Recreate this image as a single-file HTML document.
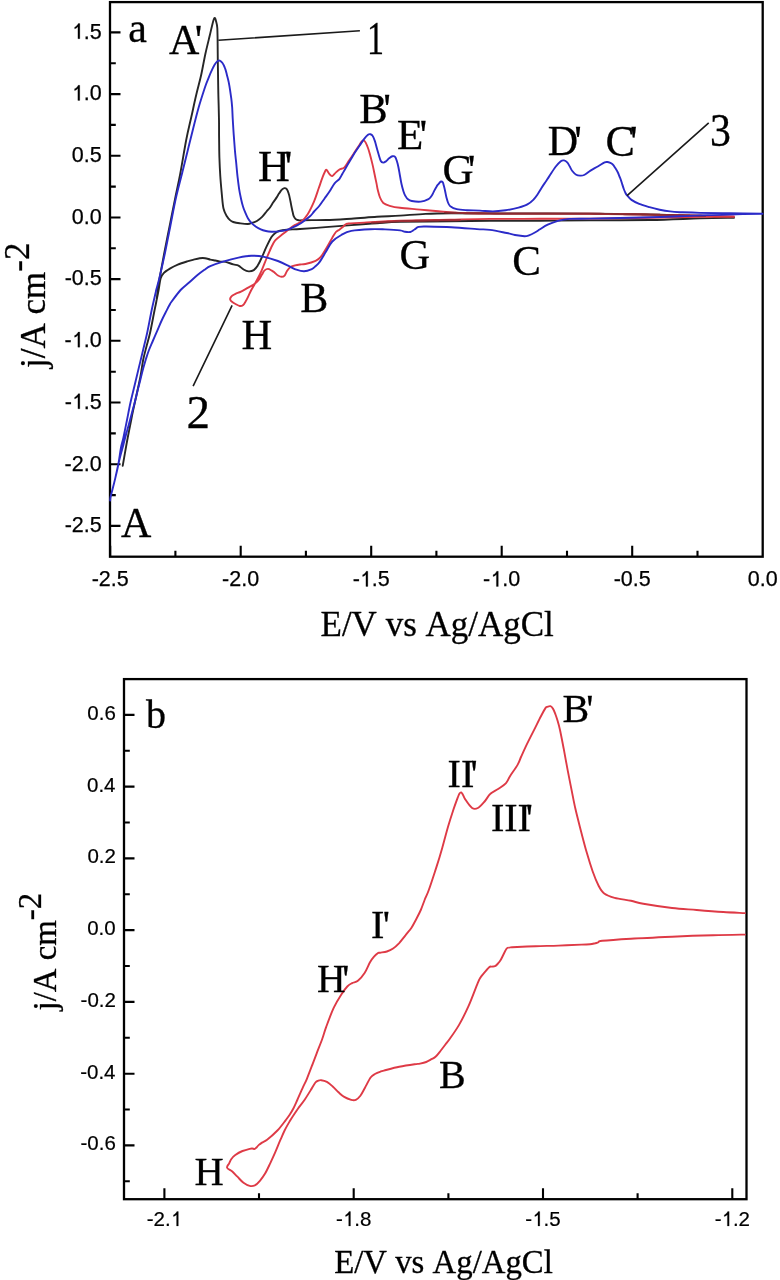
<!DOCTYPE html>
<html><head><meta charset="utf-8"><style>
html,body{margin:0;padding:0;background:#fff;}
body{width:780px;height:1280px;overflow:hidden;}
svg{display:block;will-change:transform;}
text{fill:#000;font-kerning:none;}
</style></head><body>
<svg width="780" height="1280" viewBox="0 0 780 1280">
<rect width="780" height="1280" fill="#fff"/>
<rect x="110.0" y="2.1" width="652.7" height="554.6" fill="none" stroke="#000" stroke-width="2.3"/>
<path d="M110.2,556.7V545.7M175.4,556.7V550.7M240.7,556.7V545.7M305.9,556.7V550.7M371.2,556.7V545.7M436.4,556.7V550.7M501.7,556.7V545.7M567.0,556.7V550.7M632.2,556.7V545.7M697.5,556.7V550.7M110.0,32.4H120.5M110.0,63.2H115.8M110.0,94.1H120.5M110.0,124.9H115.8M110.0,155.8H120.5M110.0,186.6H115.8M110.0,217.5H120.5M110.0,248.3H115.8M110.0,279.1H120.5M110.0,310.0H115.8M110.0,340.8H120.5M110.0,371.7H115.8M110.0,402.5H120.5M110.0,433.4H115.8M110.0,464.2H120.5M110.0,495.1H115.8M110.0,525.9H120.5" stroke="#000" stroke-width="2.1" fill="none"/>
<rect x="124.0" y="679.1" width="622.5" height="520.1" fill="none" stroke="#000" stroke-width="2.3"/>
<path d="M164.4,1199.2V1188.2M259.0,1199.2V1193.2M353.7,1199.2V1188.2M448.4,1199.2V1193.2M543.0,1199.2V1188.2M637.6,1199.2V1193.2M732.3,1199.2V1188.2M124.0,714.9H134.5M124.0,750.8H129.8M124.0,786.6H134.5M124.0,822.5H129.8M124.0,858.4H134.5M124.0,894.3H129.8M124.0,930.1H134.5M124.0,966.0H129.8M124.0,1001.9H134.5M124.0,1037.8H129.8M124.0,1073.7H134.5M124.0,1109.5H129.8M124.0,1145.4H134.5M124.0,1181.3H129.8" stroke="#000" stroke-width="2.1" fill="none"/>
<path d="M734.0,217.8 C728.3,217.9 714.0,218.0 700.0,218.4 C686.0,218.8 668.3,219.7 650.0,220.0 C631.7,220.3 608.3,220.3 590.0,220.4 C571.7,220.5 556.7,220.6 540.0,220.7 C523.3,220.8 505.0,220.7 490.0,220.8 C475.0,220.9 465.0,221.0 450.0,221.2 C435.0,221.4 412.2,221.6 400.0,221.9 C387.8,222.2 385.0,222.7 376.9,223.2 C368.8,223.7 359.9,224.4 351.3,225.1 C342.8,225.8 334.2,226.4 325.6,227.1 C317.1,227.8 306.4,228.6 300.0,229.0 C293.6,229.4 290.4,229.4 286.9,229.7 C283.4,230.0 281.0,230.4 279.0,231.0 C277.0,231.6 276.2,232.2 275.0,233.2 C273.8,234.2 272.9,234.7 271.5,237.0 C270.1,239.3 268.1,243.3 266.4,246.9 C264.7,250.5 262.8,255.4 261.3,258.5 C259.9,261.6 258.9,263.7 257.7,265.6 C256.4,267.5 255.3,269.1 253.8,270.1 C252.3,271.1 250.4,271.5 248.7,271.4 C247.0,271.3 245.3,270.5 243.6,269.5 C241.9,268.5 240.2,266.5 238.5,265.6 C236.8,264.8 235.5,265.0 233.3,264.4 C231.2,263.8 227.7,262.3 225.6,261.8 C223.5,261.3 222.2,261.8 220.5,261.6 C218.8,261.4 217.1,260.8 215.4,260.5 C213.7,260.2 212.0,260.0 210.3,259.6 C208.6,259.2 206.9,258.4 205.1,258.2 C203.3,258.0 201.7,258.0 199.7,258.3 C197.7,258.6 195.1,259.3 193.0,259.8 C190.9,260.3 189.7,260.6 187.2,261.4 C184.7,262.2 180.6,263.5 177.8,264.7 C175.0,265.9 172.7,267.0 170.3,268.4 C168.0,269.8 165.3,271.4 163.7,273.1 C162.1,274.8 161.4,275.7 160.6,278.5 C159.8,281.3 159.6,284.6 158.6,290.0 C157.6,295.4 155.8,304.0 154.4,311.0 C153.0,318.0 151.5,326.4 150.2,332.2 C148.9,338.0 147.8,341.3 146.6,346.0 C145.4,350.7 144.1,355.1 143.1,360.3 C142.1,365.5 141.4,371.7 140.3,377.2 C139.2,382.7 138.0,388.1 136.8,393.5 C135.6,398.9 134.4,404.5 133.3,409.5 C132.2,414.5 131.4,418.9 130.5,423.6 C129.6,428.3 128.6,433.0 127.7,437.7 C126.8,442.4 126.0,447.0 125.2,451.7 C124.4,456.4 122.7,465.8 122.7,465.8 C122.7,465.8 124.4,456.4 125.2,451.7 C126.0,447.0 126.8,442.4 127.7,437.7 C128.6,433.0 129.6,428.3 130.5,423.6 C131.4,418.9 132.2,414.5 133.3,409.5 C134.4,404.5 135.6,398.9 136.8,393.5 C138.0,388.1 139.2,382.7 140.3,377.2 C141.4,371.7 142.1,365.5 143.1,360.3 C144.1,355.1 145.4,350.7 146.6,346.0 C147.8,341.3 148.9,338.0 150.2,332.2 C151.5,326.4 153.3,316.4 154.4,311.0 C155.5,305.6 155.9,304.3 156.6,300.0 C157.2,295.7 157.7,289.0 158.3,285.0 C158.9,281.0 159.1,281.1 160.0,276.0 C160.9,270.9 162.4,262.7 164.0,254.4 C165.6,246.1 167.7,235.6 169.6,226.2 C171.5,216.8 173.4,206.8 175.2,198.1 C177.0,189.4 178.4,183.7 180.2,174.0 C182.0,164.3 184.4,149.4 186.2,140.0 C188.0,130.6 189.5,125.0 191.2,117.5 C192.9,110.0 194.5,102.0 196.2,95.0 C197.8,88.0 199.6,82.1 201.1,75.3 C202.6,68.5 203.9,60.7 205.3,54.2 C206.7,47.8 208.3,41.5 209.5,36.6 C210.7,31.7 211.5,27.8 212.3,24.7 C213.1,21.6 213.8,18.5 214.5,18.0 C215.2,17.5 215.7,20.1 216.2,21.8 C216.7,23.5 217.1,25.0 217.3,28.0 C217.5,31.0 217.5,34.7 217.6,40.0 C217.7,45.3 217.7,53.3 217.8,60.0 C217.9,66.7 218.0,73.3 218.1,80.0 C218.2,86.7 218.3,93.3 218.5,100.0 C218.7,106.7 218.9,113.5 219.0,120.0 C219.1,126.5 219.0,132.6 219.1,138.8 C219.2,145.1 219.2,151.2 219.4,157.5 C219.6,163.8 219.9,170.1 220.3,176.3 C220.7,182.6 221.4,189.6 221.9,195.0 C222.4,200.4 222.7,205.0 223.5,208.5 C224.3,212.0 225.6,214.1 226.7,216.0 C227.8,217.9 228.9,219.1 230.0,220.1 C231.1,221.1 231.6,221.5 233.2,222.0 C234.8,222.5 237.1,223.0 239.6,223.3 C242.1,223.6 245.8,224.1 247.9,224.0 C250.0,223.9 250.9,223.2 252.4,222.7 C253.9,222.2 255.3,222.0 256.9,221.0 C258.5,220.0 260.5,218.5 262.1,216.9 C263.7,215.3 265.2,213.1 266.5,211.5 C267.8,209.9 268.9,209.0 270.0,207.5 C271.1,206.0 272.0,204.3 273.1,202.6 C274.2,200.9 275.7,198.9 276.7,197.4 C277.7,195.9 278.3,194.6 279.2,193.3 C280.1,192.0 280.9,190.5 281.8,189.7 C282.7,188.8 283.6,188.4 284.4,188.2 C285.2,188.0 285.8,188.2 286.4,188.7 C287.0,189.2 287.4,190.2 287.9,191.3 C288.4,192.4 288.8,193.7 289.2,195.4 C289.6,197.1 290.1,199.6 290.5,201.5 C290.9,203.4 291.1,205.0 291.5,206.7 C291.9,208.4 292.2,210.3 292.6,211.8 C293.0,213.3 293.1,214.7 293.6,215.9 C294.1,217.1 294.8,218.3 295.6,219.0 C296.5,219.7 297.4,220.1 298.7,220.3 C300.0,220.5 299.1,220.2 303.7,220.2 C308.3,220.1 318.4,220.2 326.3,220.0 C334.2,219.8 342.9,219.2 351.3,218.7 C359.7,218.2 368.8,217.3 376.9,216.8 C385.0,216.3 391.9,216.1 400.0,215.6 C408.1,215.1 417.1,214.3 425.6,213.9 C434.2,213.5 438.9,213.4 451.3,213.3 C463.7,213.2 476.9,213.4 500.0,213.5 C523.1,213.6 565.0,213.4 590.0,213.6 C615.0,213.8 631.7,214.1 650.0,214.5 C668.3,214.9 686.0,215.2 700.0,215.8 C714.0,216.4 728.3,217.5 734.0,217.8" fill="none" stroke="#262626" stroke-width="1.90" stroke-linejoin="round" stroke-linecap="round"/>
<path d="M734.0,216.8 C728.3,216.8 714.0,216.8 700.0,216.9 C686.0,217.1 668.3,217.4 650.0,217.7 C631.7,218.0 608.3,218.4 590.0,218.6 C571.7,218.8 556.7,218.8 540.0,218.8 C523.3,218.9 505.0,218.8 490.0,218.9 C475.0,219.0 465.0,219.3 450.0,219.6 C435.0,219.9 414.3,220.1 400.0,220.6 C385.7,221.1 372.4,222.1 364.1,222.6 C355.8,223.1 353.0,223.2 350.0,223.4 C347.0,223.6 347.3,223.5 346.2,224.0 C345.1,224.5 344.7,225.3 343.6,226.2 C342.5,227.1 341.0,228.4 339.7,229.4 C338.4,230.4 337.1,230.6 335.9,232.0 C334.7,233.4 333.8,235.2 332.3,237.7 C330.9,240.1 329.1,243.5 327.2,246.7 C325.3,249.9 322.7,254.5 320.8,256.9 C318.9,259.2 318.2,259.6 315.6,260.8 C313.0,262.0 308.0,263.4 305.4,264.0 C302.8,264.6 301.7,264.3 300.0,264.5 C298.3,264.7 296.7,264.9 295.1,265.3 C293.5,265.8 291.6,266.2 290.2,267.2 C288.8,268.1 287.9,269.6 287.0,271.0 C286.1,272.4 285.5,274.6 284.6,275.6 C283.7,276.6 282.6,276.8 281.5,276.8 C280.4,276.8 279.2,276.2 278.0,275.5 C276.8,274.8 275.5,273.3 274.5,272.5 C273.5,271.7 272.9,271.2 271.8,270.6 C270.7,270.0 269.1,268.9 267.9,268.9 C266.7,268.9 265.6,269.5 264.6,270.4 C263.6,271.3 262.9,273.1 262.0,274.5 C261.1,275.9 260.6,277.5 259.5,279.0 C258.4,280.5 256.9,282.2 255.1,283.6 C253.3,285.0 251.0,286.1 248.7,287.4 C246.3,288.7 243.2,290.5 241.0,291.6 C238.8,292.7 236.9,293.1 235.5,293.8 C234.1,294.5 233.3,295.0 232.5,295.6 C231.7,296.2 231.0,297.0 230.6,297.6 C230.2,298.2 230.0,298.7 230.2,299.4 C230.4,300.1 231.1,301.0 232.0,301.8 C232.9,302.6 234.2,303.3 235.5,304.0 C236.8,304.7 238.4,305.8 239.7,306.0 C241.0,306.2 242.2,305.8 243.2,305.0 C244.2,304.2 244.8,302.8 245.6,301.5 C246.4,300.2 246.9,299.3 247.8,297.4 C248.8,295.5 249.9,292.7 251.3,290.0 C252.7,287.3 254.7,284.2 256.4,281.0 C258.1,277.8 259.8,274.6 261.5,270.8 C263.2,267.1 264.9,262.3 266.5,258.5 C268.1,254.7 269.6,251.0 271.0,248.0 C272.4,245.0 273.3,242.6 275.2,240.4 C277.1,238.2 279.9,236.4 282.1,234.6 C284.3,232.8 286.6,231.1 288.5,229.6 C290.4,228.1 291.5,227.1 293.6,225.8 C295.7,224.5 299.0,223.5 301.3,221.6 C303.6,219.7 305.6,217.6 307.7,214.2 C309.8,210.8 312.2,205.7 314.1,201.3 C316.0,196.9 317.4,192.0 318.8,188.0 C320.2,184.0 321.6,179.9 322.6,177.2 C323.6,174.5 324.2,173.2 324.8,172.0 C325.4,170.8 325.7,169.5 326.5,169.9 C327.3,170.3 328.6,173.2 329.5,174.2 C330.4,175.2 331.2,176.4 332.2,176.1 C333.2,175.8 334.5,173.7 335.7,172.6 C336.9,171.5 338.1,170.4 339.5,169.5 C340.9,168.6 342.8,168.9 344.4,167.4 C346.0,165.9 347.6,162.6 349.2,160.3 C350.8,158.0 352.3,155.7 353.8,153.4 C355.3,151.1 357.1,148.5 358.4,146.5 C359.7,144.5 360.9,142.5 361.8,141.5 C362.7,140.5 363.2,140.1 363.8,140.3 C364.4,140.5 365.0,141.3 365.7,142.6 C366.4,143.9 367.2,145.8 368.0,148.0 C368.8,150.2 369.5,152.9 370.3,155.7 C371.1,158.5 371.8,161.6 372.6,164.9 C373.4,168.2 374.2,172.6 374.9,175.7 C375.5,178.8 376.0,181.0 376.5,183.4 C377.0,185.8 377.2,187.7 377.8,190.0 C378.4,192.3 379.1,195.3 380.0,197.5 C380.9,199.7 381.7,201.6 383.3,203.0 C384.9,204.4 386.9,205.0 389.7,205.8 C392.5,206.6 394.9,207.2 400.0,207.8 C405.1,208.4 413.6,209.0 420.0,209.6 C426.4,210.2 431.1,210.6 438.5,211.2 C445.9,211.8 453.9,212.6 464.1,213.0 C474.4,213.4 479.0,213.5 500.0,213.6 C521.0,213.7 565.0,213.5 590.0,213.7 C615.0,213.9 631.7,214.3 650.0,214.6 C668.3,214.9 686.0,215.3 700.0,215.6 C714.0,215.9 728.3,216.3 734.0,216.5" fill="none" stroke="#de3a46" stroke-width="1.90" stroke-linejoin="round" stroke-linecap="round"/>
<path d="M445.0,212.6 C445.8,212.6 448.3,212.6 450.0,212.7 C451.7,212.7 453.3,212.8 455.0,212.8 C456.7,212.9 458.3,213.0 460.0,213.0 C461.7,213.1 463.3,213.1 465.0,213.2 C466.7,213.2 468.3,213.2 470.0,213.2 C471.7,213.3 473.3,213.3 475.0,213.3 C476.7,213.3 478.3,213.3 480.0,213.3 C481.7,213.4 483.3,213.4 485.0,213.4 C486.7,213.4 488.3,213.4 490.0,213.4 C491.7,213.5 493.3,213.5 495.0,213.5 C496.7,213.5 498.3,213.5 500.0,213.6 C501.7,213.6 503.3,213.6 505.0,213.6 C506.7,213.6 508.3,213.6 510.0,213.6 C511.7,213.6 513.3,213.6 515.0,213.6 C516.7,213.6 518.3,213.6 520.0,213.6 C521.7,213.6 523.3,213.6 525.0,213.6 C526.7,213.6 528.3,213.6 530.0,213.6 C531.7,213.6 533.3,213.6 535.0,213.6 C536.7,213.6 538.3,213.6 540.0,213.6 C541.7,213.6 543.3,213.6 545.0,213.6 C546.7,213.6 548.3,213.6 550.0,213.6 C551.7,213.6 553.3,213.6 555.0,213.6 C556.7,213.6 558.3,213.6 560.0,213.6 C561.7,213.6 563.3,213.6 565.0,213.6 C566.7,213.6 568.3,213.6 570.0,213.6 C571.7,213.6 573.3,213.6 575.0,213.6 C576.7,213.6 578.3,213.6 580.0,213.6 C581.7,213.6 583.3,213.6 585.0,213.6 C586.7,213.6 588.3,213.6 590.0,213.6 C591.7,213.7 593.3,213.7 595.0,213.7 C596.7,213.7 598.3,213.8 600.0,213.8 C601.7,213.8 603.3,213.8 605.0,213.9 C606.7,213.9 608.3,213.9 610.0,213.9 C611.7,214.0 613.3,214.0 615.0,214.0 C616.7,214.0 618.3,214.1 620.0,214.1 C621.7,214.1 623.3,214.2 625.0,214.2 C626.7,214.2 628.3,214.2 630.0,214.2 C631.7,214.3 633.3,214.3 635.0,214.3 C636.7,214.3 638.3,214.4 640.0,214.4 C641.7,214.4 643.3,214.5 645.0,214.5 C646.7,214.5 648.3,214.5 650.0,214.6 C651.7,214.6 653.3,214.6 655.0,214.7 C656.7,214.7 658.3,214.7 660.0,214.8 C661.7,214.8 663.3,214.9 665.0,214.9 C666.7,214.9 668.3,215.0 670.0,215.0 C671.7,215.0 673.3,215.1 675.0,215.1 C676.7,215.2 678.3,215.2 680.0,215.2 C681.7,215.3 683.3,215.3 685.0,215.4 C686.7,215.4 688.3,215.4 690.0,215.5 C691.7,215.5 693.3,215.5 695.0,215.6 C696.7,215.6 698.3,215.6 700.0,215.7 C701.7,215.8 704.2,215.9 705.0,215.9" fill="none" stroke="#8a2a30" stroke-width="1.90" stroke-linejoin="round" stroke-linecap="round"/>
<path d="M372.0,222.7 C372.7,222.7 374.7,222.5 376.0,222.5 C377.3,222.4 378.7,222.3 380.0,222.2 C381.3,222.2 382.7,222.1 384.0,222.0 C385.3,221.9 386.7,221.9 388.0,221.8 C389.3,221.7 390.7,221.6 392.0,221.6 C393.3,221.5 394.7,221.4 396.0,221.3 C397.3,221.3 398.7,221.2 400.0,221.1 C401.3,221.1 402.7,221.1 404.0,221.0 C405.3,221.0 406.7,221.0 408.0,221.0 C409.3,221.0 410.7,220.9 412.0,220.9 C413.3,220.9 414.7,220.9 416.0,220.8 C417.3,220.8 418.7,220.8 420.0,220.8 C421.3,220.7 422.7,220.7 424.0,220.7 C425.3,220.7 426.7,220.7 428.0,220.6 C429.3,220.6 430.7,220.6 432.0,220.6 C433.3,220.5 434.7,220.5 436.0,220.5 C437.3,220.5 438.7,220.4 440.0,220.4 C441.3,220.4 442.7,220.4 444.0,220.3 C445.3,220.3 446.7,220.3 448.0,220.3 C449.3,220.3 450.7,220.2 452.0,220.2 C453.3,220.2 454.7,220.2 456.0,220.2 C457.3,220.1 459.3,220.1 460.0,220.1" fill="none" stroke="#9a2c33" stroke-width="1.90" stroke-linejoin="round" stroke-linecap="round"/>
<path d="M762.5,213.7 C757.1,213.8 740.4,214.2 730.0,214.5 C719.6,214.8 708.3,215.1 700.0,215.4 C691.7,215.7 688.3,216.0 680.0,216.3 C671.7,216.6 660.0,217.0 650.0,217.3 C640.0,217.6 630.0,217.8 620.0,218.0 C610.0,218.2 598.4,218.4 590.0,218.6 C581.6,218.8 574.9,218.5 569.5,218.9 C564.1,219.3 561.5,219.9 557.9,220.8 C554.3,221.8 550.7,223.2 547.7,224.6 C544.7,226.0 542.1,228.0 540.0,229.3 C537.9,230.6 536.7,231.5 534.9,232.5 C533.1,233.5 530.7,234.7 529.0,235.3 C527.3,235.9 526.9,236.2 524.6,236.2 C522.3,236.1 518.0,235.5 515.0,235.0 C512.0,234.5 510.9,233.8 506.7,233.0 C502.5,232.2 495.0,230.6 490.0,229.9 C485.0,229.2 483.3,229.6 476.9,229.1 C470.4,228.6 459.9,227.6 451.3,227.2 C442.8,226.8 431.1,226.6 425.6,226.5 C420.1,226.4 420.4,226.4 418.5,226.9 C416.6,227.4 415.9,228.7 414.5,229.5 C413.1,230.3 411.9,231.6 410.3,232.0 C408.7,232.4 406.7,232.1 405.0,231.8 C403.3,231.5 403.3,230.8 400.0,230.4 C396.7,230.0 389.9,229.6 385.0,229.4 C380.1,229.2 376.1,228.9 370.5,229.2 C364.9,229.4 356.2,229.9 351.3,230.9 C346.4,231.9 344.5,233.2 341.3,235.0 C338.1,236.8 334.9,238.7 332.3,241.5 C329.7,244.3 328.0,248.4 325.9,251.8 C323.8,255.2 321.2,259.7 319.5,262.1 C317.8,264.5 316.7,265.1 315.4,266.3 C314.1,267.5 313.7,268.3 311.8,269.1 C309.9,269.9 306.7,271.2 304.1,271.3 C301.5,271.4 298.8,270.5 296.4,269.7 C294.0,268.9 293.1,268.1 290.0,266.6 C286.9,265.2 282.2,262.6 277.9,261.0 C273.6,259.4 268.5,257.8 264.1,256.9 C259.7,256.0 255.6,255.6 251.3,255.7 C247.0,255.8 243.2,256.6 238.5,257.6 C233.8,258.6 227.8,260.2 223.1,261.6 C218.4,263.0 213.3,264.8 210.3,266.1 C207.3,267.4 207.1,267.9 205.0,269.4 C202.9,270.9 200.2,272.8 197.5,275.0 C194.8,277.2 191.9,280.0 189.1,282.5 C186.3,285.0 183.5,286.8 180.6,290.0 C177.7,293.2 173.3,299.3 171.5,301.8 C169.7,304.3 170.5,303.2 169.5,305.0 C168.5,306.8 167.0,309.8 165.6,312.5 C164.2,315.2 162.6,318.4 161.2,321.5 C159.8,324.6 158.6,327.6 157.2,330.8 C155.8,334.1 154.2,337.7 152.8,341.0 C151.4,344.3 150.0,347.4 148.8,350.5 C147.6,353.6 146.8,356.4 145.8,359.5 C144.9,362.6 144.0,365.4 143.1,368.8 C142.2,372.2 141.2,376.3 140.3,380.0 C139.4,383.7 138.4,387.2 137.5,391.0 C136.6,394.8 135.6,398.8 134.7,402.5 C133.8,406.2 132.8,409.5 131.9,413.0 C131.0,416.5 130.0,420.1 129.1,423.6 C128.2,427.1 127.2,430.5 126.2,434.0 C125.2,437.5 124.3,441.2 123.4,444.7 C122.5,448.2 121.4,451.8 120.6,455.0 C119.8,458.2 119.3,460.1 118.4,464.0 C117.5,467.9 116.3,473.8 115.3,478.1 C114.3,482.4 113.2,486.7 112.4,489.8 C111.6,492.9 111.0,495.1 110.6,496.9 C110.2,498.7 110.2,500.5 110.2,500.5 C110.2,500.5 110.2,498.7 110.6,496.9 C111.0,495.1 111.6,492.9 112.4,489.8 C113.2,486.7 114.3,482.4 115.3,478.1 C116.3,473.8 117.5,469.0 118.4,464.0 C119.3,459.0 120.1,452.4 120.9,448.0 C121.7,443.6 122.4,442.4 123.4,437.7 C124.4,433.0 125.8,425.9 127.0,420.0 C128.2,414.1 129.2,408.3 130.5,402.5 C131.8,396.7 133.3,390.9 134.7,385.0 C136.1,379.1 137.5,373.2 138.9,367.4 C140.3,361.6 141.7,355.9 143.1,350.0 C144.5,344.1 145.9,338.7 147.3,332.2 C148.7,325.7 150.1,317.7 151.5,311.0 C152.9,304.3 155.0,295.5 155.8,292.0 C156.6,288.5 155.6,292.3 156.2,290.0 C156.8,287.7 158.0,283.9 159.4,278.0 C160.8,272.1 162.9,263.0 164.7,254.4 C166.5,245.8 168.4,235.6 170.3,226.2 C172.2,216.8 173.9,207.1 175.9,198.1 C177.9,189.1 180.5,179.8 182.4,172.0 C184.3,164.2 185.9,158.0 187.6,151.0 C189.3,144.0 191.0,137.2 192.8,130.0 C194.6,122.8 196.5,115.1 198.5,108.0 C200.5,100.9 203.4,92.1 205.0,87.2 C206.6,82.3 207.1,81.5 208.2,78.8 C209.3,76.1 210.3,73.5 211.4,71.2 C212.5,68.9 213.5,66.4 214.6,64.7 C215.7,63.0 217.0,61.6 217.8,60.9 C218.7,60.2 218.9,60.3 219.7,60.6 C220.4,60.9 221.4,61.6 222.3,62.8 C223.2,64.0 224.2,66.0 224.9,67.9 C225.7,69.8 226.2,72.0 226.8,74.4 C227.4,76.8 228.2,79.5 228.7,82.1 C229.2,84.6 229.6,86.9 230.0,89.7 C230.4,92.5 230.9,95.7 231.3,98.7 C231.7,101.7 231.9,104.2 232.2,107.7 C232.4,111.2 232.5,115.3 232.8,120.0 C233.1,124.7 233.4,130.4 233.8,135.6 C234.2,140.8 234.6,146.6 235.0,151.3 C235.4,156.0 235.9,159.6 236.3,163.8 C236.7,168.0 237.0,172.1 237.5,176.3 C238.0,180.5 238.5,184.9 239.1,188.8 C239.7,192.8 240.7,197.2 241.3,200.0 C241.9,202.8 242.1,203.6 242.7,205.5 C243.3,207.4 243.8,209.1 244.7,211.2 C245.6,213.3 246.8,216.3 247.9,218.2 C249.0,220.1 249.9,221.3 251.2,222.7 C252.5,224.1 254.0,225.4 255.6,226.5 C257.2,227.6 259.1,228.7 260.8,229.4 C262.5,230.2 264.1,230.6 265.9,231.0 C267.7,231.4 270.0,231.6 271.7,231.7 C273.4,231.8 274.3,231.7 276.0,231.6 C277.7,231.5 280.0,231.2 281.8,230.9 C283.6,230.6 285.1,230.4 287.0,229.8 C288.9,229.2 291.5,227.9 293.3,227.1 C295.1,226.3 296.5,225.6 298.0,224.8 C299.5,224.0 300.2,223.7 302.3,222.2 C304.4,220.7 308.3,217.8 310.3,216.0 C312.3,214.2 312.6,213.2 314.1,211.5 C315.6,209.8 317.5,208.1 319.2,206.0 C320.9,203.9 322.7,201.1 324.4,198.7 C326.1,196.3 327.8,194.1 329.5,191.5 C331.2,188.9 332.9,185.4 334.6,183.3 C336.3,181.2 338.2,180.4 339.5,178.8 C340.8,177.2 341.4,175.6 342.3,174.0 C343.2,172.4 343.6,171.8 344.9,169.5 C346.2,167.2 348.6,163.1 350.3,160.3 C352.0,157.5 353.4,155.0 354.9,152.6 C356.4,150.2 357.9,148.0 359.5,145.7 C361.1,143.4 362.8,140.6 364.2,138.8 C365.6,137.0 367.0,135.5 368.0,134.7 C369.0,133.9 369.5,134.0 370.3,134.2 C371.1,134.4 371.8,134.5 372.6,135.7 C373.4,136.8 374.1,138.8 374.9,141.1 C375.7,143.4 376.5,147.2 377.2,149.5 C377.9,151.8 378.2,153.1 378.8,155.0 C379.4,156.9 380.1,159.7 380.8,161.0 C381.5,162.3 382.4,162.5 383.2,162.6 C384.0,162.7 384.9,162.1 385.9,161.4 C386.9,160.7 387.9,159.2 389.0,158.3 C390.1,157.5 391.3,156.5 392.3,156.3 C393.3,156.1 394.3,155.7 395.2,157.0 C396.1,158.3 397.0,161.3 397.7,164.0 C398.4,166.7 398.9,169.7 399.5,173.0 C400.1,176.3 400.8,180.9 401.5,184.0 C402.2,187.1 402.9,189.5 403.5,191.5 C404.1,193.5 404.6,194.6 405.4,195.9 C406.1,197.2 406.9,198.5 408.0,199.3 C409.1,200.2 409.7,200.6 411.8,201.0 C413.9,201.4 418.0,201.9 420.8,201.6 C423.6,201.3 426.7,200.0 428.5,199.1 C430.3,198.2 430.6,197.2 431.5,196.0 C432.4,194.8 432.8,193.6 433.6,192.1 C434.4,190.6 435.4,188.5 436.2,187.2 C436.9,185.9 437.3,185.3 438.1,184.4 C438.9,183.5 440.2,181.8 441.0,181.5 C441.8,181.2 442.3,181.7 442.8,182.4 C443.3,183.1 443.4,184.1 443.8,185.6 C444.2,187.1 444.8,189.6 445.2,191.5 C445.6,193.4 445.9,195.4 446.4,197.2 C446.9,199.0 447.4,201.0 448.0,202.5 C448.6,204.0 448.9,205.1 450.3,206.2 C451.8,207.3 453.9,208.5 456.7,209.2 C459.5,209.9 463.0,210.0 466.9,210.2 C470.8,210.4 475.7,210.4 480.0,210.6 C484.3,210.8 488.5,211.4 492.8,211.4 C497.1,211.4 501.3,210.9 505.6,210.3 C509.9,209.7 514.9,208.6 518.5,207.6 C522.1,206.6 524.9,205.8 527.4,204.4 C529.9,203.0 532.1,201.0 533.8,199.3 C535.5,197.7 536.2,196.4 537.5,194.5 C538.8,192.6 540.2,190.1 541.5,188.0 C542.8,185.9 544.2,183.9 545.5,182.0 C546.8,180.1 547.5,178.9 549.2,176.4 C550.9,173.9 553.7,169.3 555.6,166.8 C557.5,164.3 559.4,162.3 560.8,161.2 C562.2,160.1 562.9,160.2 564.0,160.4 C565.1,160.6 566.2,161.3 567.2,162.3 C568.2,163.3 568.9,165.1 569.8,166.5 C570.6,167.9 571.2,169.6 572.3,171.0 C573.4,172.4 574.9,174.0 576.2,174.8 C577.5,175.6 578.7,175.6 580.0,175.6 C581.3,175.6 582.4,175.8 584.1,175.0 C585.9,174.2 588.1,172.1 590.5,170.6 C592.9,169.1 595.9,167.6 598.2,166.2 C600.6,164.8 603.1,163.1 604.6,162.4 C606.1,161.7 606.6,162.0 607.5,162.0 C608.4,162.0 608.9,162.2 609.7,162.6 C610.5,163.0 611.6,163.4 612.5,164.2 C613.4,165.0 614.1,166.1 614.9,167.4 C615.7,168.7 616.6,170.1 617.5,171.8 C618.4,173.5 619.2,175.8 620.0,177.7 C620.8,179.6 621.4,181.6 622.0,183.5 C622.6,185.4 623.2,187.4 623.8,189.0 C624.4,190.6 625.0,191.9 625.5,193.0 C626.0,194.1 626.1,194.2 627.1,195.4 C628.1,196.6 629.5,198.5 631.5,199.9 C633.5,201.3 636.2,202.7 639.2,203.9 C642.2,205.1 646.1,206.2 649.5,207.2 C652.9,208.2 656.3,209.0 659.7,209.7 C663.1,210.4 666.6,211.0 670.0,211.4 C673.4,211.8 675.0,211.9 680.0,212.2 C685.0,212.4 691.7,212.7 700.0,212.9 C708.3,213.1 719.6,213.2 730.0,213.3 C740.4,213.4 757.1,213.6 762.5,213.7" fill="none" stroke="#2b2bc8" stroke-width="1.90" stroke-linejoin="round" stroke-linecap="round"/>
<path d="M744.9,913.1 C741.3,912.9 731.3,912.5 723.3,912.0 C715.3,911.5 705.2,910.7 696.7,910.0 C688.2,909.3 681.0,909.0 672.1,908.0 C663.2,907.0 650.1,905.0 643.3,903.8 C636.4,902.6 635.8,901.8 631.0,900.8 C626.2,899.8 619.1,899.0 614.6,897.8 C610.1,896.6 606.9,895.5 604.2,893.5 C601.5,891.5 600.4,889.2 598.5,885.5 C596.6,881.8 594.6,876.9 592.7,871.5 C590.8,866.1 588.8,859.7 586.9,853.1 C585.0,846.5 583.1,839.3 581.2,831.9 C579.3,824.5 577.0,815.8 575.4,808.8 C573.8,801.8 572.8,796.0 571.5,789.6 C570.2,783.2 569.0,777.1 567.7,770.4 C566.4,763.7 565.1,755.9 563.8,749.2 C562.5,742.5 561.1,735.0 560.0,730.0 C558.9,725.0 558.0,722.2 557.2,719.5 C556.4,716.8 555.9,715.6 555.2,713.7 C554.5,711.9 553.6,709.6 552.8,708.4 C552.0,707.1 551.3,706.5 550.4,706.2 C549.5,705.9 548.3,706.5 547.5,706.8 C546.7,707.1 546.7,706.3 545.6,707.9 C544.5,709.5 542.9,712.5 540.8,716.5 C538.7,720.5 535.7,726.8 533.1,731.9 C530.5,737.0 527.4,743.1 525.4,747.3 C523.4,751.5 522.3,754.1 521.0,757.0 C519.7,759.9 519.5,761.4 517.7,764.6 C515.9,767.8 512.0,773.1 510.0,776.2 C508.0,779.3 507.8,781.2 505.8,783.3 C503.8,785.4 500.7,787.2 498.1,789.0 C495.5,790.8 492.6,791.7 490.4,793.8 C488.1,795.9 486.7,799.1 484.6,801.5 C482.5,803.9 480.0,806.9 477.9,808.0 C475.8,809.1 474.2,809.4 472.1,808.0 C470.0,806.6 466.9,801.9 465.4,799.6 C463.8,797.4 463.5,795.7 462.8,794.5 C462.1,793.3 461.8,792.6 461.2,792.4 C460.6,792.2 460.1,792.6 459.5,793.5 C458.9,794.4 458.8,794.8 457.7,797.7 C456.6,800.7 454.5,806.4 452.9,811.2 C451.3,816.0 449.9,820.4 448.1,826.5 C446.3,832.6 444.2,841.0 442.3,847.7 C440.4,854.4 438.8,859.9 436.5,866.9 C434.2,873.9 430.8,884.5 428.8,890.0 C426.8,895.5 425.9,896.7 424.6,900.0 C423.3,903.3 422.2,906.8 420.8,910.0 C419.4,913.2 417.8,916.2 416.2,919.2 C414.6,922.2 413.3,925.0 411.5,927.7 C409.7,930.4 407.4,932.8 405.4,935.4 C403.3,938.0 401.2,940.9 399.2,943.1 C397.1,945.3 395.2,947.1 393.1,948.5 C391.1,949.9 389.1,950.8 386.9,951.5 C384.7,952.2 381.5,952.4 380.0,952.7 C378.5,953.0 378.7,952.5 377.7,953.2 C376.7,953.9 375.1,955.4 373.8,956.9 C372.5,958.4 371.5,959.6 370.0,962.3 C368.5,965.0 366.6,970.0 364.6,973.1 C362.6,976.2 360.0,979.1 357.9,980.8 C355.8,982.5 353.9,982.1 352.1,983.1 C350.3,984.1 349.1,984.6 347.3,986.5 C345.5,988.4 343.8,990.7 341.5,994.2 C339.2,997.7 336.4,1002.2 333.8,1007.7 C331.2,1013.2 328.1,1021.7 326.2,1026.9 C324.3,1032.1 323.9,1034.3 322.3,1038.8 C320.7,1043.3 318.1,1049.6 316.5,1053.8 C314.9,1058.0 314.3,1059.6 312.7,1063.8 C311.1,1068.0 308.5,1074.9 306.9,1078.8 C305.3,1082.7 304.7,1083.4 303.1,1086.9 C301.5,1090.4 298.9,1096.4 297.3,1100.0 C295.7,1103.6 294.8,1105.8 293.5,1108.3 C292.2,1110.8 290.8,1113.0 289.5,1115.0 C288.2,1117.0 287.6,1117.7 285.6,1120.3 C283.6,1122.9 280.5,1127.3 277.4,1130.5 C274.3,1133.7 269.7,1137.7 267.1,1139.7 C264.5,1141.7 263.4,1141.7 262.0,1142.6 C260.6,1143.5 259.8,1144.1 258.9,1144.9 C258.0,1145.7 257.2,1146.8 256.5,1147.5 C255.8,1148.2 255.5,1148.7 254.8,1148.9 C254.1,1149.1 253.0,1148.5 252.2,1148.5 C251.3,1148.5 251.3,1148.4 249.7,1148.8 C248.1,1149.2 244.9,1150.0 242.5,1151.0 C240.1,1152.0 237.2,1153.7 235.3,1155.1 C233.4,1156.5 232.2,1157.8 231.2,1159.2 C230.2,1160.6 229.9,1161.9 229.2,1163.3 C228.5,1164.7 226.6,1166.3 227.1,1167.7 C227.6,1169.1 230.6,1170.0 232.3,1171.5 C234.0,1173.0 235.5,1174.8 237.4,1176.7 C239.3,1178.6 241.4,1181.3 243.5,1182.8 C245.6,1184.3 247.8,1185.5 249.7,1185.9 C251.6,1186.3 253.1,1186.2 254.8,1185.4 C256.5,1184.6 258.2,1182.8 259.9,1180.8 C261.6,1178.8 263.4,1176.5 265.1,1173.6 C266.8,1170.7 268.5,1166.9 270.2,1163.3 C271.9,1159.7 273.6,1156.0 275.3,1152.1 C277.0,1148.2 278.9,1143.3 280.5,1139.7 C282.1,1136.1 283.1,1133.6 284.6,1130.5 C286.1,1127.4 288.0,1124.2 289.7,1121.3 C291.4,1118.4 293.6,1115.1 295.0,1113.0 C296.4,1110.9 296.4,1110.8 298.1,1108.5 C299.8,1106.2 302.9,1102.3 305.0,1099.2 C307.1,1096.1 309.1,1092.8 310.8,1090.0 C312.5,1087.2 314.2,1084.0 315.4,1082.5 C316.6,1081.0 317.0,1081.2 318.0,1080.8 C319.0,1080.4 319.7,1080.0 321.2,1080.2 C322.7,1080.4 325.0,1080.9 326.9,1081.9 C328.8,1083.0 330.8,1084.8 332.7,1086.5 C334.6,1088.2 336.6,1090.6 338.5,1092.3 C340.4,1094.0 342.1,1095.7 344.2,1096.9 C346.3,1098.2 349.3,1099.3 351.2,1099.8 C353.1,1100.3 354.3,1100.5 355.8,1099.8 C357.3,1099.1 358.9,1097.8 360.4,1095.8 C361.9,1093.8 363.3,1090.8 365.0,1087.7 C366.7,1084.6 369.1,1079.6 370.8,1077.3 C372.5,1075.0 373.9,1074.7 375.4,1073.8 C376.9,1072.9 378.6,1072.3 380.0,1071.8 C381.4,1071.3 380.6,1071.4 383.8,1070.6 C387.0,1069.8 394.1,1067.8 399.2,1066.8 C404.3,1065.8 411.1,1064.8 414.6,1064.3 C418.1,1063.8 418.1,1064.0 420.0,1063.6 C421.9,1063.2 424.3,1062.7 426.2,1062.0 C428.1,1061.3 429.9,1060.1 431.5,1059.2 C433.1,1058.3 434.2,1058.0 435.8,1056.5 C437.4,1055.0 439.2,1052.5 440.8,1050.5 C442.4,1048.5 443.9,1046.5 445.4,1044.5 C446.9,1042.5 447.7,1041.8 450.0,1038.5 C452.3,1035.2 456.1,1030.0 459.2,1024.6 C462.3,1019.2 465.4,1013.1 468.5,1006.2 C471.6,999.3 475.7,987.9 477.7,983.1 C479.7,978.3 479.5,979.1 480.5,977.5 C481.5,975.9 482.1,975.3 483.5,973.6 C484.9,971.9 487.8,968.4 489.2,967.2 C490.6,966.0 491.0,966.8 492.0,966.6 C493.0,966.4 494.0,966.7 495.0,966.2 C496.0,965.7 497.0,964.6 498.0,963.5 C499.0,962.4 499.4,962.2 500.8,959.8 C502.2,957.3 505.1,950.8 506.5,948.8 C507.9,946.8 508.0,947.9 509.0,947.6 C510.0,947.3 507.9,947.4 512.3,947.2 C516.7,947.0 527.7,946.5 535.4,946.2 C543.1,945.9 550.8,945.9 558.5,945.6 C566.2,945.3 576.2,944.8 581.5,944.6 C586.8,944.4 587.7,944.5 590.0,944.3 C592.3,944.1 594.0,943.5 595.4,943.2 C596.8,942.9 597.1,942.7 598.2,942.3 C599.4,941.9 596.8,941.4 602.3,940.8 C607.8,940.2 619.4,939.4 631.0,938.7 C642.6,938.0 658.4,937.3 672.1,936.7 C685.8,936.1 701.0,935.6 713.1,935.3 C725.2,934.9 739.6,934.7 744.9,934.6" fill="none" stroke="#de3a46" stroke-width="1.90" stroke-linejoin="round" stroke-linecap="round"/>
<text x="71.81" y="38.70" style="font-family:'Liberation Sans',sans-serif;stroke:#000;stroke-width:0.25px;font-size:21.5px"><tspan style="fill:none;stroke:none">1</tspan>.5</text>
<path transform="matrix(0.01050,0,0,-0.01050,71.81,38.70)" d="M763,0 L583,0 L583,1130 Q525,1075 450,1025 Q370,975 270,940 L270,1100 Q400,1165 490,1262 Q575,1350 614,1440 L763,1440 Z" fill="#000" stroke="#000" stroke-width="23.8"/>
<text x="71.75" y="100.39" style="font-family:'Liberation Sans',sans-serif;stroke:#000;stroke-width:0.25px;font-size:21.5px"><tspan style="fill:none;stroke:none">1</tspan>.0</text>
<path transform="matrix(0.01050,0,0,-0.01050,71.75,100.39)" d="M763,0 L583,0 L583,1130 Q525,1075 450,1025 Q370,975 270,940 L270,1100 Q400,1165 490,1262 Q575,1350 614,1440 L763,1440 Z" fill="#000" stroke="#000" stroke-width="23.8"/>
<text x="71.81" y="162.08" style="font-family:'Liberation Sans',sans-serif;stroke:#000;stroke-width:0.25px;font-size:21.5px">0.5</text>
<text x="71.75" y="223.76" style="font-family:'Liberation Sans',sans-serif;stroke:#000;stroke-width:0.25px;font-size:21.5px">0.0</text>
<text x="64.66" y="285.45" style="font-family:'Liberation Sans',sans-serif;stroke:#000;stroke-width:0.25px;font-size:21.5px">-0.5</text>
<text x="64.59" y="347.14" style="font-family:'Liberation Sans',sans-serif;stroke:#000;stroke-width:0.25px;font-size:21.5px">-<tspan style="fill:none;stroke:none">1</tspan>.0</text>
<path transform="matrix(0.01050,0,0,-0.01050,71.75,347.14)" d="M763,0 L583,0 L583,1130 Q525,1075 450,1025 Q370,975 270,940 L270,1100 Q400,1165 490,1262 Q575,1350 614,1440 L763,1440 Z" fill="#000" stroke="#000" stroke-width="23.8"/>
<text x="64.66" y="408.82" style="font-family:'Liberation Sans',sans-serif;stroke:#000;stroke-width:0.25px;font-size:21.5px">-<tspan style="fill:none;stroke:none">1</tspan>.5</text>
<path transform="matrix(0.01050,0,0,-0.01050,71.81,408.82)" d="M763,0 L583,0 L583,1130 Q525,1075 450,1025 Q370,975 270,940 L270,1100 Q400,1165 490,1262 Q575,1350 614,1440 L763,1440 Z" fill="#000" stroke="#000" stroke-width="23.8"/>
<text x="64.59" y="470.51" style="font-family:'Liberation Sans',sans-serif;stroke:#000;stroke-width:0.25px;font-size:21.5px">-2.0</text>
<text x="64.66" y="532.20" style="font-family:'Liberation Sans',sans-serif;stroke:#000;stroke-width:0.25px;font-size:21.5px">-2.5</text>
<text x="91.65" y="586.40" style="font-family:'Liberation Sans',sans-serif;stroke:#000;stroke-width:0.25px;font-size:21.5px">-2.5</text>
<text x="222.12" y="586.40" style="font-family:'Liberation Sans',sans-serif;stroke:#000;stroke-width:0.25px;font-size:21.5px">-2.0</text>
<text x="352.65" y="586.40" style="font-family:'Liberation Sans',sans-serif;stroke:#000;stroke-width:0.25px;font-size:21.5px">-<tspan style="fill:none;stroke:none">1</tspan>.5</text>
<path transform="matrix(0.01050,0,0,-0.01050,359.81,586.40)" d="M763,0 L583,0 L583,1130 Q525,1075 450,1025 Q370,975 270,940 L270,1100 Q400,1165 490,1262 Q575,1350 614,1440 L763,1440 Z" fill="#000" stroke="#000" stroke-width="23.8"/>
<text x="483.12" y="586.40" style="font-family:'Liberation Sans',sans-serif;stroke:#000;stroke-width:0.25px;font-size:21.5px">-<tspan style="fill:none;stroke:none">1</tspan>.0</text>
<path transform="matrix(0.01050,0,0,-0.01050,490.28,586.40)" d="M763,0 L583,0 L583,1130 Q525,1075 450,1025 Q370,975 270,940 L270,1100 Q400,1165 490,1262 Q575,1350 614,1440 L763,1440 Z" fill="#000" stroke="#000" stroke-width="23.8"/>
<text x="613.65" y="586.40" style="font-family:'Liberation Sans',sans-serif;stroke:#000;stroke-width:0.25px;font-size:21.5px">-0.5</text>
<text x="747.76" y="586.40" style="font-family:'Liberation Sans',sans-serif;stroke:#000;stroke-width:0.25px;font-size:21.5px">0.0</text>
<text x="87.30" y="719.80" style="font-family:'Liberation Sans',sans-serif;stroke:#000;stroke-width:0.20px;font-size:20.5px">0.6</text>
<text x="87.00" y="791.55" style="font-family:'Liberation Sans',sans-serif;stroke:#000;stroke-width:0.20px;font-size:20.5px">0.4</text>
<text x="87.43" y="863.30" style="font-family:'Liberation Sans',sans-serif;stroke:#000;stroke-width:0.20px;font-size:20.5px">0.2</text>
<text x="87.20" y="935.05" style="font-family:'Liberation Sans',sans-serif;stroke:#000;stroke-width:0.20px;font-size:20.5px">0.0</text>
<text x="80.61" y="1006.80" style="font-family:'Liberation Sans',sans-serif;stroke:#000;stroke-width:0.20px;font-size:20.5px">-0.2</text>
<text x="80.18" y="1078.55" style="font-family:'Liberation Sans',sans-serif;stroke:#000;stroke-width:0.20px;font-size:20.5px">-0.4</text>
<text x="80.48" y="1150.30" style="font-family:'Liberation Sans',sans-serif;stroke:#000;stroke-width:0.20px;font-size:20.5px">-0.6</text>
<text x="146.78" y="1226.00" style="font-family:'Liberation Sans',sans-serif;stroke:#000;stroke-width:0.20px;font-size:20.5px">-2.<tspan style="fill:none;stroke:none">1</tspan></text>
<path transform="matrix(0.01001,0,0,-0.01001,170.71,1226.00)" d="M763,0 L583,0 L583,1130 Q525,1075 450,1025 Q370,975 270,940 L270,1100 Q400,1165 490,1262 Q575,1350 614,1440 L763,1440 Z" fill="#000" stroke="#000" stroke-width="20.0"/>
<text x="336.03" y="1226.00" style="font-family:'Liberation Sans',sans-serif;stroke:#000;stroke-width:0.20px;font-size:20.5px">-<tspan style="fill:none;stroke:none">1</tspan>.8</text>
<path transform="matrix(0.01001,0,0,-0.01001,342.85,1226.00)" d="M763,0 L583,0 L583,1130 Q525,1075 450,1025 Q370,975 270,940 L270,1100 Q400,1165 490,1262 Q575,1350 614,1440 L763,1440 Z" fill="#000" stroke="#000" stroke-width="20.0"/>
<text x="525.31" y="1226.00" style="font-family:'Liberation Sans',sans-serif;stroke:#000;stroke-width:0.20px;font-size:20.5px">-<tspan style="fill:none;stroke:none">1</tspan>.5</text>
<path transform="matrix(0.01001,0,0,-0.01001,532.14,1226.00)" d="M763,0 L583,0 L583,1130 Q525,1075 450,1025 Q370,975 270,940 L270,1100 Q400,1165 490,1262 Q575,1350 614,1440 L763,1440 Z" fill="#000" stroke="#000" stroke-width="20.0"/>
<text x="714.70" y="1226.00" style="font-family:'Liberation Sans',sans-serif;stroke:#000;stroke-width:0.20px;font-size:20.5px">-<tspan style="fill:none;stroke:none">1</tspan>.2</text>
<path transform="matrix(0.01001,0,0,-0.01001,721.52,1226.00)" d="M763,0 L583,0 L583,1130 Q525,1075 450,1025 Q370,975 270,940 L270,1100 Q400,1165 490,1262 Q575,1350 614,1440 L763,1440 Z" fill="#000" stroke="#000" stroke-width="20.0"/>
<text x="320.5" y="636.0" style="font-family:'Liberation Serif',serif;stroke:#000;stroke-width:0.3px;font-size:35.0px">E/V vs Ag/AgCl</text>
<text x="334.2" y="1272.8" style="font-family:'Liberation Serif',serif;stroke:#000;stroke-width:0.3px;font-size:32.8px">E/V vs Ag/AgCl</text>
<text transform="translate(44.5,369.0) rotate(-90)" x="1.0" y="0" style="font-family:'Liberation Serif',serif;stroke:#000;stroke-width:0.3px;font-size:35.0px">j/A cm<tspan dy="-16.0">-2</tspan></text>
<text transform="translate(56.0,1011.3) rotate(-90)" x="0.9" y="0" style="font-family:'Liberation Serif',serif;stroke:#000;stroke-width:0.3px;font-size:32.8px">j/A cm<tspan dy="-15.0">-2</tspan></text>
<path d="M218.4,40.2 L359.9,30.8 M232.1,305.4 L193.1,386.2 M627.1,195.6 L708.7,122.9" stroke="#1a1a1a" stroke-width="1.6" fill="none"/>
<text x="128.3" y="42.3" style="font-family:'Liberation Serif',serif;stroke:#000;stroke-width:0.3px;font-size:42.0px">a</text>
<text x="169.1" y="53.7" style="font-family:'Liberation Serif',serif;stroke:#000;stroke-width:0.3px;font-size:42.0px">A</text>
<text x="194.7" y="53.7" style="font-family:'Liberation Serif',serif;stroke:#000;stroke-width:0.3px;font-size:42.0px">'</text>
<text x="366.0" y="54.3" style="font-family:'Liberation Serif',serif;stroke:#000;stroke-width:0.3px;font-size:46.0px" transform="matrix(0.740,0,0,1,96.20,0)">1</text>
<text x="258.0" y="181.3" style="font-family:'Liberation Serif',serif;stroke:#000;stroke-width:0.3px;font-size:44.0px">H</text>
<text x="284.6" y="181.3" style="font-family:'Liberation Serif',serif;stroke:#000;stroke-width:0.3px;font-size:44.0px">'</text>
<text x="359.3" y="123.0" style="font-family:'Liberation Serif',serif;stroke:#000;stroke-width:0.3px;font-size:42.5px">B</text>
<text x="383.3" y="123.0" style="font-family:'Liberation Serif',serif;stroke:#000;stroke-width:0.3px;font-size:42.5px">'</text>
<text x="397.1" y="148.5" style="font-family:'Liberation Serif',serif;stroke:#000;stroke-width:0.3px;font-size:43.0px">E</text>
<text x="419.4" y="148.5" style="font-family:'Liberation Serif',serif;stroke:#000;stroke-width:0.3px;font-size:43.0px">'</text>
<text x="442.4" y="184.2" style="font-family:'Liberation Serif',serif;stroke:#000;stroke-width:0.3px;font-size:43.0px">G</text>
<text x="467.7" y="184.2" style="font-family:'Liberation Serif',serif;stroke:#000;stroke-width:0.3px;font-size:43.0px">'</text>
<text x="547.8" y="154.6" style="font-family:'Liberation Serif',serif;stroke:#000;stroke-width:0.3px;font-size:42.0px">D</text>
<text x="574.2" y="154.6" style="font-family:'Liberation Serif',serif;stroke:#000;stroke-width:0.3px;font-size:42.0px">'</text>
<text x="605.4" y="156.2" style="font-family:'Liberation Serif',serif;stroke:#000;stroke-width:0.3px;font-size:44.0px">C</text>
<text x="629.7" y="156.2" style="font-family:'Liberation Serif',serif;stroke:#000;stroke-width:0.3px;font-size:44.0px">'</text>
<text x="709.9" y="146.1" style="font-family:'Liberation Serif',serif;stroke:#000;stroke-width:0.3px;font-size:46.5px" transform="matrix(0.900,0,0,1,71.21,0)">3</text>
<text x="399.6" y="268.6" style="font-family:'Liberation Serif',serif;stroke:#000;stroke-width:0.3px;font-size:42.5px">G</text>
<text x="512.3" y="275.0" style="font-family:'Liberation Serif',serif;stroke:#000;stroke-width:0.3px;font-size:43.0px">C</text>
<text x="300.3" y="312.0" style="font-family:'Liberation Serif',serif;stroke:#000;stroke-width:0.3px;font-size:42.0px">B</text>
<text x="241.5" y="349.2" style="font-family:'Liberation Serif',serif;stroke:#000;stroke-width:0.3px;font-size:42.5px">H</text>
<text x="121.1" y="537.3" style="font-family:'Liberation Serif',serif;stroke:#000;stroke-width:0.3px;font-size:42.0px">A</text>
<text x="186.6" y="427.9" style="font-family:'Liberation Serif',serif;stroke:#000;stroke-width:0.3px;font-size:47.0px">2</text>
<text x="145.9" y="727.6" style="font-family:'Liberation Serif',serif;stroke:#000;stroke-width:0.3px;font-size:40.0px">b</text>
<text x="562.5" y="721.7" style="font-family:'Liberation Serif',serif;stroke:#000;stroke-width:0.3px;font-size:40.0px">B</text>
<text x="586.2" y="721.7" style="font-family:'Liberation Serif',serif;stroke:#000;stroke-width:0.3px;font-size:40.0px">'</text>
<text x="447.6" y="787.1" style="font-family:'Liberation Serif',serif;stroke:#000;stroke-width:0.3px;font-size:40.0px">II</text>
<text x="470.6" y="787.1" style="font-family:'Liberation Serif',serif;stroke:#000;stroke-width:0.3px;font-size:40.0px">'</text>
<text x="490.9" y="831.3" style="font-family:'Liberation Serif',serif;stroke:#000;stroke-width:0.3px;font-size:40.0px">III</text>
<text x="525.7" y="831.3" style="font-family:'Liberation Serif',serif;stroke:#000;stroke-width:0.3px;font-size:40.0px">'</text>
<text x="371.1" y="937.5" style="font-family:'Liberation Serif',serif;stroke:#000;stroke-width:0.3px;font-size:40.0px">I</text>
<text x="382.8" y="937.5" style="font-family:'Liberation Serif',serif;stroke:#000;stroke-width:0.3px;font-size:40.0px">'</text>
<text x="317.0" y="992.3" style="font-family:'Liberation Serif',serif;stroke:#000;stroke-width:0.3px;font-size:39.5px">H</text>
<text x="342.2" y="992.3" style="font-family:'Liberation Serif',serif;stroke:#000;stroke-width:0.3px;font-size:39.5px">'</text>
<text x="438.9" y="1088.0" style="font-family:'Liberation Serif',serif;stroke:#000;stroke-width:0.3px;font-size:40.0px">B</text>
<text x="194.6" y="1185.3" style="font-family:'Liberation Serif',serif;stroke:#000;stroke-width:0.3px;font-size:40.5px">H</text>
</svg>
</body></html>
